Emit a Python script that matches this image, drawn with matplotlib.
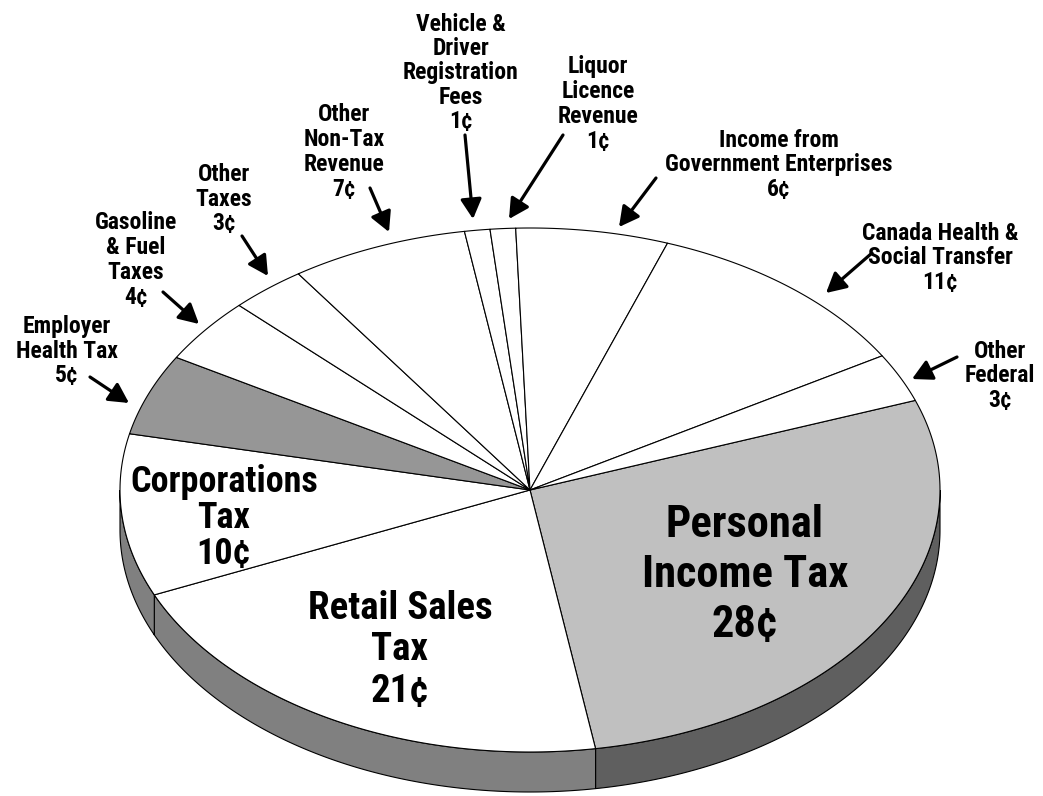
import numpy as np
import matplotlib
matplotlib.use('Agg')
import matplotlib.pyplot as plt
from matplotlib.patches import Polygon

plt.rcParams['font.family'] = ['Roboto Condensed', 'DejaVu Sans Condensed',
                               'Liberation Sans Narrow', 'Roboto', 'DejaVu Sans']
plt.rcParams['font.weight'] = 'bold'

# Revenue sources, clockwise from the right-hand edge of the pie
sources = ['Personal\nIncome Tax', 'Retail Sales\nTax', 'Corporations\nTax',
           'Employer\nHealth Tax', 'Gasoline\n& Fuel\nTaxes', 'Other\nTaxes',
           'Other\nNon-Tax\nRevenue', 'Vehicle &\nDriver\nRegistration\nFees',
           'Liquor\nLicence\nRevenue', 'Income from\nGovernment Enterprises',
           'Canada Health &\nSocial Transfer', 'Other\nFederal']
cents = [28, 21, 10, 5, 4, 3, 7, 1, 1, 6, 11, 3]

# Colours of the top face and rim for each slice
top_colors = ['#c0c0c0', '#ffffff', '#ffffff', '#969696', '#ffffff', '#ffffff',
              '#ffffff', '#ffffff', '#ffffff', '#ffffff', '#ffffff', '#ffffff']
side_colors = ['#5f5f5f', '#808080', '#808080', '#707070', '#808080', '#808080',
               '#808080', '#808080', '#808080', '#808080', '#808080', '#808080']

# pie geometry (pixels)
cx, cy = 530, 490
rx, ry = 410, 262
depth = 40
start_angle = 20

# label placement: (x, y, fontsize, linespacing, arrow tail, arrow tip)
layout = [
    (745, 575, 32, 1.25, None, None),
    (400, 650, 28, 1.15, None, None),
    (224, 518, 26, 1.0, None, None),
    (67, 351, 17, 1.1, (90, 377), (129, 403)),
    (136, 260, 17, 1.1, (163, 292), (199, 324)),
    (224, 199, 17, 1.1, (242, 236), (268, 276)),
    (344, 152, 17, 1.1, (370, 188), (389, 232)),
    (461, 73, 17, 1.08, (465, 135), (473, 219)),
    (598, 104, 17, 1.1, (563, 135), (509, 219)),
    (779, 165, 17, 1.1, (656, 178), (619, 227)),
    (940, 258, 17, 1.1, (872, 253), (826, 293)),
    (1000, 376, 17, 1.1, (957, 357), (912, 379)),
]

fig = plt.figure(figsize=(10.43, 7.96), dpi=100)
ax = fig.add_axes([0, 0, 1, 1])
ax.set_xlim(0, 1043)
ax.set_ylim(796, 0)
ax.axis('off')


def arc(t0, t1, n=200):
    t = np.radians(np.linspace(t0, t1, n))
    return cx + rx * np.cos(t), cy - ry * np.sin(t)


total = float(sum(cents))
bounds = []
hi = start_angle
for v in cents:
    lo = hi - 360.0 * v / total
    bounds.append((lo, hi))
    hi = lo

# sides (only the front half of the rim is visible)
for (lo, hi), sc in zip(bounds, side_colors):
    for k in (-1, 0, 1):
        s = max(lo, -180 + 360 * k)
        e = min(hi, 360 * k)
        if e <= s:
            continue
        x, y = arc(s, e)
        pts = np.column_stack([np.r_[x, x[::-1]], np.r_[y, y[::-1] + depth]])
        ax.add_patch(Polygon(pts, closed=True, facecolor=sc,
                             edgecolor='black', lw=0.8))

# top faces
for (lo, hi), tc in zip(bounds, top_colors):
    x, y = arc(lo, hi)
    pts = np.column_stack([np.r_[cx, x], np.r_[cy, y]])
    ax.add_patch(Polygon(pts, closed=True, facecolor=tc,
                         edgecolor='black', lw=0.8, joinstyle='round'))

# labels and arrows
for name, v, (tx, ty, fs, ls, tail, tip) in zip(sources, cents, layout):
    ax.text(tx, ty, f'{name}\n{v}¢', ha='center', va='center',
            multialignment='center', fontsize=fs, fontweight='bold',
            linespacing=ls, color='black')
    if tail is not None:
        ax.annotate('', xy=tip, xytext=tail,
                    arrowprops=dict(arrowstyle='-|>,head_length=0.6,head_width=0.32',
                                    lw=2.3, color='black', mutation_scale=20,
                                    shrinkA=0, shrinkB=0))

fig.savefig('out.png', dpi=100)
